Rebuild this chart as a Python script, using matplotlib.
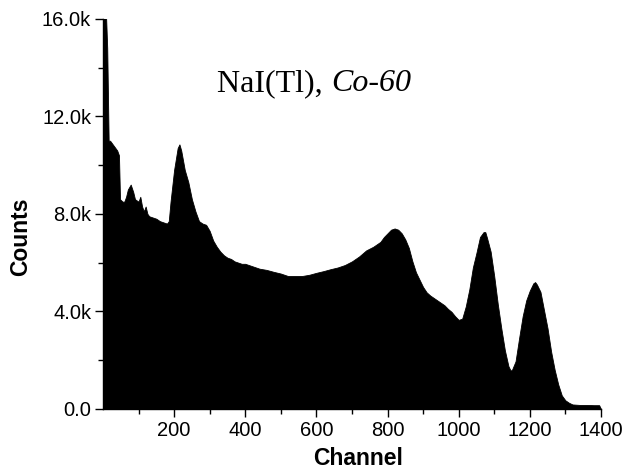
import matplotlib
matplotlib.use("Agg")
import matplotlib.pyplot as plt
from matplotlib.ticker import FixedLocator, FuncFormatter

# spectrum (channel, counts)
channels = [0, 8, 12, 16, 20, 30, 40, 45, 48, 55, 60, 65, 70, 78, 85, 90,
            100, 105, 110, 115, 120, 125, 130, 140, 150, 160, 170, 180, 185,
            190, 200, 210, 215, 220, 230, 240, 250, 260, 270, 280, 290, 300,
            310, 320, 330, 340, 350, 360, 370, 380, 390, 400, 420, 440, 460,
            480, 500, 520, 540, 560, 580, 600, 620, 640, 660, 680, 700, 720,
            740, 760, 780, 790, 800, 810, 820, 830, 840, 850, 860, 870, 880,
            890, 900, 910, 920, 930, 940, 950, 960, 970, 980, 990, 1000, 1010,
            1020, 1030, 1040, 1050, 1060, 1070, 1075, 1080, 1090, 1100, 1110,
            1120, 1130, 1140, 1146, 1150, 1160, 1170, 1180, 1190, 1200, 1210,
            1215, 1220, 1230, 1240, 1250, 1260, 1270, 1280, 1290, 1300, 1310,
            1320, 1340, 1360, 1380, 1395, 1400]
counts = [16400, 16400, 14800, 11000, 11000, 10800, 10600, 10400, 8600, 8500,
          8500, 8700, 9000, 9200, 8900, 8600, 8500, 8700, 8300, 8100, 8300,
          8000, 7900, 7850, 7800, 7700, 7650, 7600, 7700, 8500, 9800, 10700,
          10850, 10600, 9800, 9300, 8600, 8100, 7700, 7600, 7550, 7300, 6900,
          6650, 6450, 6300, 6200, 6150, 6050, 6000, 5950, 5950, 5850, 5750,
          5700, 5620, 5550, 5450, 5450, 5450, 5500, 5580, 5650, 5730, 5800,
          5900, 6050, 6250, 6500, 6650, 6850, 7050, 7200, 7350, 7400, 7350,
          7200, 6950, 6600, 6050, 5600, 5300, 5000, 4780, 4650, 4550, 4450,
          4350, 4250, 4100, 3980, 3800, 3650, 3700, 4200, 4900, 5800, 6400,
          7050, 7250, 7250, 7000, 6450, 5450, 4300, 3300, 2400, 1750, 1570,
          1600, 1950, 2900, 3800, 4450, 4850, 5150, 5200, 5100, 4800, 4050,
          3300, 2350, 1600, 1000, 550, 350, 250, 180, 160, 160, 150, 150, 0]

x_major = [200, 400, 600, 800, 1000, 1200, 1400]
x_minor = [100, 300, 500, 700, 900, 1100, 1300]
y_major = [0, 4000, 8000, 12000, 16000]
y_minor = [2000, 6000, 10000, 14000]

plt.rcParams["font.family"] = ["Liberation Sans", "DejaVu Sans"]

fig = plt.figure(figsize=(6.24, 4.71), dpi=100)
ax = fig.add_axes([0.165, 0.132, 0.798, 0.828])

ax.fill_between(channels, counts, 0, color="black", linewidth=0.6,
                edgecolor="black")

ax.set_xlim(0, 1400)
ax.set_ylim(0, 16000)

ax.xaxis.set_major_locator(FixedLocator(x_major))
ax.xaxis.set_minor_locator(FixedLocator(x_minor))
ax.yaxis.set_major_locator(FixedLocator(y_major))
ax.yaxis.set_minor_locator(FixedLocator(y_minor))

def k_fmt(v, pos):
    if v == 0:
        return "0.0"
    return "%.1fk" % (v / 1000)

ax.yaxis.set_major_formatter(FuncFormatter(k_fmt))

ax.tick_params(which="major", direction="out", length=5.5, width=1,
               labelsize=14.5, colors="black", pad=3)
ax.tick_params(which="minor", direction="out", length=3.3, width=1)

for side in ["top", "right"]:
    ax.spines[side].set_visible(False)
for side in ["left", "bottom"]:
    ax.spines[side].set_linewidth(1)

ax.set_xlabel("Channel", fontsize=16.5, fontweight="bold")
ax.xaxis.set_label_coords(0.512, -0.097)
ax.set_ylabel("Counts", fontsize=16.5, fontweight="bold")
ax.yaxis.set_label_coords(-0.143, 0.44)

serif = ["Liberation Serif", "DejaVu Serif"]
t1 = ax.text(321, 13030, "NaI(Tl), ", fontsize=23, family=serif,
             ha="left", va="baseline")
ax.annotate("Co-60", xy=(1, 0), xycoords=t1, fontsize=23, family=serif,
            style="italic", ha="left", va="bottom")

fig.savefig("out.png", dpi=100)
